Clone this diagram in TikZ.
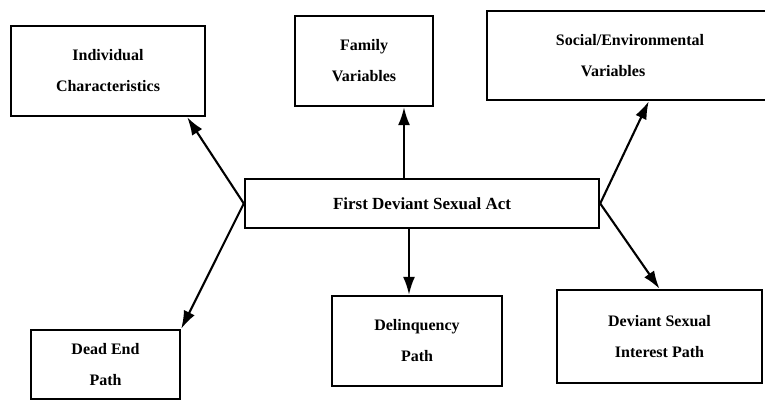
\documentclass[tikz,border=0pt]{standalone}
\usepackage{fontspec}
\setmainfont{Liberation Serif}
\usetikzlibrary{arrows.meta}
\begin{document}
\begin{tikzpicture}[x=1pt,y=-1pt,
  box/.style={draw=black, line width=2.4pt, rectangle, inner sep=0pt,
    align=center, font=\bfseries\fontsize{16}{31}\selectfont},
  txt/.style={inner sep=0pt, align=left, font=\bfseries\fontsize{16}{31}\selectfont},
  arr/.style={line width=2.1pt, -{Latex[length=18pt,width=12pt]}}]
\useasboundingbox[fill=white] (0,0) rectangle (765,401);
% boxes
\node[box, minimum width=194pt, minimum height=90pt] (ind) at (108,71) {Individual\\Characteristics};
\node[box, minimum width=138pt, minimum height=90pt] (fam) at (364,61) {Family\\Variables};
\node[box, minimum width=300pt, minimum height=89pt] (soc) at (637,55.5) {};
\node[txt] (soct) at (630,55.5) {Social/Environmental\\\hspace*{25pt}Variables};
\node[box, minimum width=354pt, minimum height=49pt,
  font=\bfseries\fontsize{17}{20}\selectfont] (cen) at (422,203.5) {First Deviant Sexual Act};
\node[box, minimum width=149pt, minimum height=69pt] (dead) at (105.5,364.5) {Dead End\\Path};
\node[box, minimum width=170pt, minimum height=90pt] (del) at (417,341) {Delinquency\\Path};
\node[box, minimum width=205pt, minimum height=93pt] (dev) at (659.5,336.5) {Deviant Sexual\\Interest Path};
% connectors
\draw[arr] (cen.west) -- ([xshift=-19pt]ind.south east);
\draw[arr] (cen.west) -- (dead.north east);
\draw[arr] ([xshift=-18pt]cen.north) -- ([xshift=-18pt]cen.north |- fam.south);
\draw[arr] ([xshift=-13pt]cen.south) -- ([xshift=-13pt]cen.south |- del.north);
\draw[arr] (cen.east) -- ([xshift=163pt]soc.south west);
\draw[arr] (cen.east) -- (dev.north);
\end{tikzpicture}
\end{document}
